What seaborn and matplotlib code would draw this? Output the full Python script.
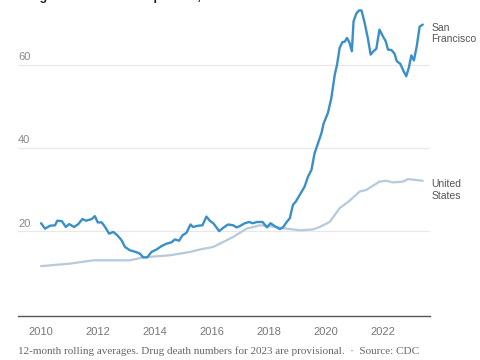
import seaborn as sns
import matplotlib.pyplot as plt
import pandas as pd

# San Francisco drug overdose deaths per 100k, 12-month rolling average
sf_year = [2010.00, 2010.14, 2010.32, 2010.49, 2010.57, 2010.73, 2010.87, 2010.99, 2011.16, 2011.31,
           2011.45, 2011.58, 2011.78, 2011.89, 2011.99, 2012.13, 2012.25, 2012.39, 2012.54, 2012.68,
           2012.83, 2012.95, 2013.12, 2013.33, 2013.47, 2013.59, 2013.73, 2013.88, 2014.06, 2014.23,
           2014.41, 2014.58, 2014.70, 2014.85, 2014.97, 2015.11, 2015.25, 2015.34, 2015.52, 2015.67,
           2015.81, 2015.93, 2016.05, 2016.16, 2016.26, 2016.40, 2016.57, 2016.75, 2016.87, 2016.98,
           2017.16, 2017.31, 2017.43, 2017.59, 2017.78, 2017.94, 2018.06, 2018.21, 2018.39, 2018.50,
           2018.62, 2018.74, 2018.85, 2018.95, 2019.09, 2019.26, 2019.38, 2019.50, 2019.61, 2019.73,
           2019.85, 2019.93, 2020.08, 2020.20, 2020.32, 2020.40, 2020.49, 2020.59, 2020.67, 2020.75,
           2020.84, 2020.92, 2020.98, 2021.08, 2021.17, 2021.26, 2021.37, 2021.48, 2021.58, 2021.68,
           2021.78, 2021.89, 2022.01, 2022.11, 2022.19, 2022.31, 2022.42, 2022.50, 2022.62, 2022.74,
           2022.83, 2022.92, 2023.01, 2023.10, 2023.20, 2023.30, 2023.41]
sf_rate = [21.9, 20.6, 21.3, 21.4, 22.5, 22.4, 21.0, 21.7, 21.0, 21.7,
           22.9, 22.5, 22.9, 23.6, 22.1, 22.1, 21.0, 19.4, 19.8, 19.0,
           17.8, 16.2, 15.4, 15.0, 14.6, 13.7, 13.7, 15.0, 15.6, 16.4,
           17.0, 17.3, 18.0, 17.7, 19.0, 19.6, 21.6, 21.0, 21.3, 21.4,
           23.5, 22.5, 21.9, 20.9, 20.0, 20.8, 21.6, 21.4, 20.9, 21.2,
           21.9, 22.2, 21.9, 22.2, 22.2, 20.9, 21.9, 21.2, 20.5, 20.9,
           22.1, 23.1, 26.3, 27.1, 28.7, 30.7, 33.1, 34.7, 38.7, 41.1,
           43.5, 45.9, 48.4, 52.0, 57.6, 60.0, 64.0, 65.4, 65.5, 66.4,
           65.2, 63.2, 70.4, 72.3, 73.0, 73.0, 70.0, 66.4, 62.4, 63.2,
           63.8, 68.4, 66.8, 65.6, 63.6, 63.5, 62.6, 60.8, 60.2, 58.4,
           57.2, 59.2, 62.2, 61.0, 64.4, 69.1, 69.6]

# United States
us_year = [2010.00, 2011.02, 2011.84, 2013.12, 2013.59, 2014.53, 2015.23, 2015.58, 2016.05, 2016.40,
           2016.75, 2017.22, 2017.68, 2018.04, 2018.62, 2019.09, 2019.55, 2019.79, 2020.14, 2020.49,
           2020.84, 2021.19, 2021.43, 2021.89, 2022.13, 2022.36, 2022.72, 2022.89, 2023.41]
us_rate = [11.6, 12.2, 13.0, 13.0, 13.7, 14.2, 15.0, 15.6, 16.2, 17.4,
           18.6, 20.6, 21.4, 21.2, 20.6, 20.2, 20.4, 21.0, 22.2, 25.5,
           27.3, 29.5, 29.9, 31.9, 32.1, 31.7, 31.9, 32.5, 32.1]

sf = pd.DataFrame({'year': sf_year, 'rate': sf_rate})
us = pd.DataFrame({'year': us_year, 'rate': us_rate})

sns.set_style('white')
plt.rcParams['font.family'] = ['Liberation Sans', 'DejaVu Sans']

fig = plt.figure(figsize=(4.8, 3.6), dpi=100)
ax = fig.add_axes([0.0375, 0.122, 0.858, 0.864])

sns.lineplot(data=us, x='year', y='rate', ax=ax, color='#b7c9da', linewidth=1.6)
sns.lineplot(data=sf, x='year', y='rate', ax=ax, color='#3a8fc9', linewidth=1.7)

ax.set_xlim(2009.19, 2023.66)
ax.set_ylim(-0.4, 74.3)
ax.set_xlabel('')
ax.set_ylabel('')

# horizontal gridlines with labels sitting on top of them
for v in [20, 40, 60]:
    ax.axhline(v, color='#e8e8e8', linewidth=0.9, zorder=0)
    ax.text(2009.19, v + 0.6, str(v), fontsize=8, color='#888888', ha='left', va='bottom')
ax.set_yticks([])

ax.set_xticks([2010, 2012, 2014, 2016, 2018, 2020, 2022])
ax.tick_params(axis='x', length=3, width=0.8, color='#555555', labelcolor='#777777',
               labelsize=8, pad=5)
for s in ['top', 'right', 'left']:
    ax.spines[s].set_visible(False)
ax.spines['bottom'].set_color('#555555')
ax.spines['bottom'].set_linewidth(1.0)

ax.text(2023.72, 67.5, 'San\nFrancisco', fontsize=7.5, color='#555555', va='center', ha='left',
        linespacing=1.15, clip_on=False)
ax.text(2023.72, 29.9, 'United\nStates', fontsize=7.5, color='#555555', va='center', ha='left',
        linespacing=1.15, clip_on=False)

fig.text(0.0375, 1.008, 'Drug overdose deaths per 100,000 residents', fontsize=9,
         fontweight='bold', color='#222222', ha='left', va='center')
fig.text(0.0375, 0.012, '12-month rolling averages. Drug death numbers for 2023 are provisional.  \u00b7  Source: CDC',
         fontsize=8, color='#666666', ha='left', va='bottom', family='Liberation Serif')

fig.savefig('out.png', dpi=100)
